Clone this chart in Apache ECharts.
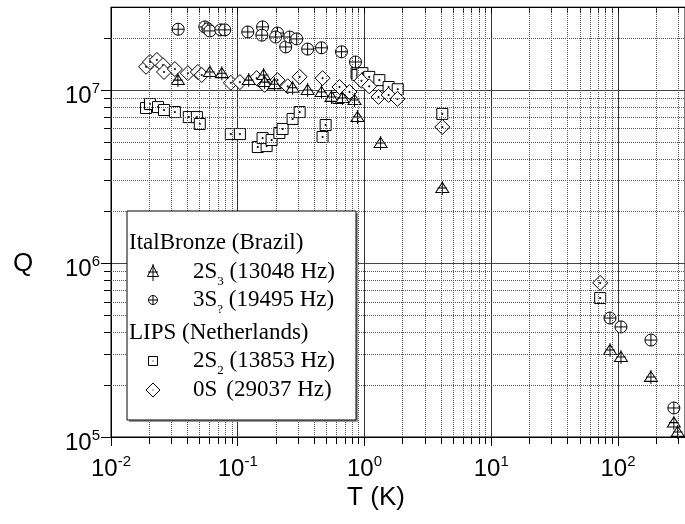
<!DOCTYPE html>
<html><head><meta charset="utf-8">
<script src="https://cdn.jsdelivr.net/npm/echarts@6/dist/echarts.min.js"></script>
<style>html,body{margin:0;padding:0;background:#fff}#c{width:685px;height:524px}</style>
</head><body><div id="c"></div>
<script>
// ---- data (T in K, Q) ----
const tri2S3_T = [0.0337,0.0603,0.0749,0.122,0.160,0.163,0.195,0.271,0.356,0.458,0.549,0.670,0.834,0.88,1.34,4.11,86.5,105.6,182,276,296];
const tri2S3_Q = [1.14e7,1.27e7,1.25e7,1.14e7,1.22e7,1.11e7,1.08e7,1.03e7,1.0e7,9.73e6,9.12e6,8.99e6,8.75e6,6.98e6,4.95e6,2.72e6,3.17e5,2.89e5,2.22e5,1.21e5,1.07e5];
const cir3S_T = [0.0339,0.0550,0.0581,0.0603,0.0735,0.0790,0.120,0.157,0.155,0.206,0.199,0.239,0.257,0.292,0.356,0.458,0.659,0.849,86.5,105.6,182,276];
const cir3S_Q = [2.24e7,2.31e7,2.25e7,2.19e7,2.22e7,2.22e7,2.16e7,2.31e7,2.07e7,2.13e7,2.02e7,1.77e7,2.02e7,1.97e7,1.72e7,1.75e7,1.66e7,1.45e7,4.85e5,4.31e5,3.62e5,1.47e5];
const sq2S2_T = [0.0189,0.0203,0.0235,0.0262,0.0319,0.0411,0.0476,0.0502,0.0882,0.104,0.144,0.169,0.157,0.185,0.213,0.226,0.271,0.308,0.467,0.494,0.622,0.866,0.88,0.963,1.09,1.31,1.55,1.83,4.11,72.4];
const sq2S2_Q = [7.87e6,8.3e6,7.97e6,7.67e6,7.46e6,6.98e6,6.98e6,6.37e6,5.57e6,5.57e6,4.69e6,4.75e6,5.28e6,5.15e6,5.65e6,5.96e6,6.81e6,7.46e6,5.36e6,6.28e6,8.99e6,1.25e7,1.22e7,1.25e7,1.19e7,1.14e7,1.04e7,1.01e7,7.28e6,6.32e5];
const dia0S_T = [0.0189,0.0203,0.0230,0.0257,0.0262,0.0319,0.0404,0.0484,0.0520,0.0882,0.104,0.141,0.163,0.206,0.248,0.308,0.467,0.635,0.762,0.947,1.09,1.29,1.55,1.82,4.11,72.4];
const dia0S_Q = [1.36e7,1.45e7,1.49e7,1.39e7,1.27e7,1.32e7,1.25e7,1.27e7,1.22e7,1.10e7,1.11e7,1.17e7,1.07e7,1.14e7,1.05e7,1.19e7,1.17e7,1.04e7,9.73e6,1.13e7,1.05e7,9.12e6,9.36e6,8.88e6,6.12e6,7.73e5];

// ---- ticks ----
const xMajor = [0.01,0.1,1,10,100];
const xMinor = [0.02,0.03,0.04,0.05,0.06,0.07,0.08,0.09,0.2,0.3,0.4,0.5,0.6,0.7,0.8,0.9,2,3,4,5,6,7,8,9,20,30,40,50,60,70,80,90,200,300];
const yMajor = [1e5,1e6,1e7];
const yMinor = [2e5,3e5,4e5,5e5,6e5,7e5,8e5,9e5,2e6,3e6,4e6,5e6,6e6,7e6,8e6,9e6,2e7];

const SANS = '"Liberation Sans", Arial, sans-serif';
const SERIF = '"Liberation Serif", "Times New Roman", serif';

const P_TRI = 'M0,-1.1L0,1.1M0,-0.9L0.95,0.7L-0.95,0.7ZM-0.7,0L0.7,0';
const P_CIR = 'M-1,0A1,1,0,1,1,1,0A1,1,0,1,1,-1,0ZM-1,0L1,0M0,-1L0,1';
const P_SQ  = 'M-1,-1L1,-1L1,1L-1,1ZM-0.1,-0.1L0.1,-0.1L0.1,0.1L-0.1,0.1Z';
const P_DIA = 'M0,-1L1,0L0,1L-1,0ZM-0.07,-0.07L0.07,-0.07L0.07,0.07L-0.07,0.07Z';

const zip = (a,b) => a.map((v,i)=>[v,b[i]]);
const supRich = {
  b:{fontSize:24,fontFamily:SANS,color:'#000',lineHeight:30},
  s:{fontSize:15,fontFamily:SANS,color:'#000',lineHeight:15,verticalAlign:'top'}
};
const powLabel = v => '{b|10}{s|' + Math.round(Math.log10(v)) + '}';

const XMIN=0.01, XMAX=338, YMIN=1e5, YMAX=3e7;
const blk = {color:'#000',width:1};

const mkSeries = (name, T, Q, path, size) => ({
  type:'scatter', name, xAxisIndex:0, yAxisIndex:0,
  data: zip(T,Q), symbol:'path://'+path, symbolSize:size,
  itemStyle:{color:'#fff',borderColor:'#000',borderWidth:1,opacity:1},
  emphasis:{disabled:true}, z:3
});

const chart = echarts.init(document.getElementById('c'), null, {renderer:'canvas'});
const ST = {fill:'#fff',stroke:'#000',lineWidth:1};
const LN = {stroke:'#000',lineWidth:1};
function legSym(kind, cx, cy){
  const Z = 102;
  if (kind==='tri') return [
    {type:'polygon', z:Z, shape:{points:[[cx,cy-6.5],[cx+5.5,cy+4.5],[cx-5.5,cy+4.5]]}, style:ST},
    {type:'line', z:Z+1, shape:{x1:cx,y1:cy-8,x2:cx,y2:cy+9}, style:LN},
    {type:'line', z:Z+1, shape:{x1:cx-5,y1:cy,x2:cx+5,y2:cy}, style:LN}];
  if (kind==='cir') return [
    {type:'circle', z:Z, shape:{cx:cx,cy:cy,r:4.5}, style:ST},
    {type:'line', z:Z+1, shape:{x1:cx-4.5,y1:cy,x2:cx+4.5,y2:cy}, style:LN},
    {type:'line', z:Z+1, shape:{x1:cx,y1:cy-4.5,x2:cx,y2:cy+4.5}, style:LN}];
  if (kind==='sq') return [
    {type:'rect', z:Z, shape:{x:cx-4.5,y:cy-4.5,width:9,height:9}, style:ST},
    {type:'rect', z:Z+1, shape:{x:cx-0.5,y:cy-0.5,width:1,height:1}, style:{fill:'#000'}}];
  return [
    {type:'polygon', z:Z, shape:{points:[[cx,cy-7],[cx+7,cy],[cx,cy+7],[cx-7,cy]]}, style:ST},
    {type:'rect', z:Z+1, shape:{x:cx-0.5,y:cy-0.5,width:1,height:1}, style:{fill:'#000'}}];
}
const legendRows = [
  {t:'{n|2S}{sub|3}{n| (13048 Hz)}', y:272, k:'tri'},
  {t:'{n|3S}{sub|?}{n| (19495 Hz)}', y:300, k:'cir'},
  {t:'{n|2S}{sub|2}{n| (13853 Hz)}', y:361, k:'sq'},
  {t:'{n|0S}{sub| }{n| (29037 Hz)}', y:390, k:'dia'}
];
const legRich = {
  n:{fontSize:23,fontFamily:SERIF,fill:'#000',lineHeight:28,verticalAlign:'top'},
  sub:{fontSize:13,fontFamily:SERIF,fill:'#000',lineHeight:28,verticalAlign:'bottom'}
};
let graphics = [
  {type:'rect', z:100, shape:{x:129,y:213,width:229,height:209}, style:{fill:'#999'}},
  {type:'rect', z:101, shape:{x:127,y:211,width:229,height:209}, style:{fill:'#fff',stroke:'#000',lineWidth:1}},
  {type:'text', z:102, x:129, y:243, style:{text:'ItalBronze (Brazil)',font:'23px '+SERIF,fill:'#000',verticalAlign:'middle'}},
  {type:'text', z:102, x:129, y:333, style:{text:'LIPS (Netherlands)',font:'23px '+SERIF,fill:'#000',verticalAlign:'middle'}},
  {type:'text', z:10, x:23, y:264, style:{text:'Q',font:'26px '+SANS,fill:'#000',align:'center',verticalAlign:'middle'}},
  {type:'text', z:10, x:376, y:498, style:{text:'T (K)',font:'26px '+SANS,fill:'#000',align:'center',verticalAlign:'middle'}}
];
legendRows.forEach(r => {
  graphics.push({type:'text', z:102, x:193, y:r.y-11.5, style:{text:r.t, rich:legRich, verticalAlign:'top', fill:'#000'}});
  graphics = graphics.concat(legSym(r.k, 153, r.y));
});

chart.setOption({
  animation:false,
  backgroundColor:'#fff',
  grid:{left:111, right:0, top:7.2, bottom:87, show:true, borderColor:'#000', borderWidth:1, containLabel:false},
  xAxis:[
    {type:'log', min:XMIN, max:XMAX, position:'bottom',
     axisLine:{show:true,onZero:false,lineStyle:blk},
     axisTick:{show:true,inside:false,length:9,customValues:xMajor,lineStyle:blk},
     axisLabel:{show:true,margin:17,customValues:xMajor,formatter:powLabel,rich:supRich},
     splitLine:{show:true,lineStyle:{color:'#333',width:1}}},
    {type:'log', min:XMIN, max:XMAX, position:'bottom',
     axisLine:{show:false}, axisTick:{show:true,inside:false,length:7,customValues:xMinor,lineStyle:blk},
     axisLabel:{show:false}, splitLine:{show:false}},
    {type:'log', min:XMIN, max:XMAX, position:'top',
     axisLine:{show:true,onZero:false,lineStyle:blk}, axisTick:{show:true,inside:true,length:6,customValues:xMajor.concat(xMinor),lineStyle:blk},
     axisLabel:{show:false}, splitLine:{show:false}}
  ],
  yAxis:[
    {type:'log', min:YMIN, max:YMAX, position:'left',
     axisLine:{show:true,onZero:false,lineStyle:blk},
     axisTick:{show:true,inside:false,length:10,customValues:yMajor,lineStyle:blk},
     axisLabel:{show:true,margin:11,customValues:yMajor,formatter:powLabel,rich:supRich,padding:[12,0,0,0]},
     splitLine:{show:true,lineStyle:{color:'#444',width:1}}},
    {type:'log', min:YMIN, max:YMAX, position:'left',
     axisLine:{show:false}, axisTick:{show:true,inside:false,length:7,customValues:yMinor,lineStyle:blk},
     axisLabel:{show:false}, splitLine:{show:false}}
  ],
  series:[
    {type:'scatter', xAxisIndex:0, yAxisIndex:0, data:[], silent:true, z:1,
     markLine:{silent:true, symbol:['none','none'], label:{show:false}, animation:false,
       lineStyle:{type:'dotted',color:'#555',width:1},
       emphasis:{disabled:true},
       data: xMinor.map(v=>({xAxis:v})).concat(yMinor.map(v=>({yAxis:v})))}},
    mkSeries('2S2', sq2S2_T, sq2S2_Q, P_SQ, 11),
    mkSeries('0S', dia0S_T, dia0S_Q, P_DIA, 15),
    mkSeries('2S3', tri2S3_T, tri2S3_Q, P_TRI, [13,14]),
    mkSeries('3S?', cir3S_T, cir3S_Q, P_CIR, 12)
  ],
  graphic: graphics
});
</script>
</body></html>
